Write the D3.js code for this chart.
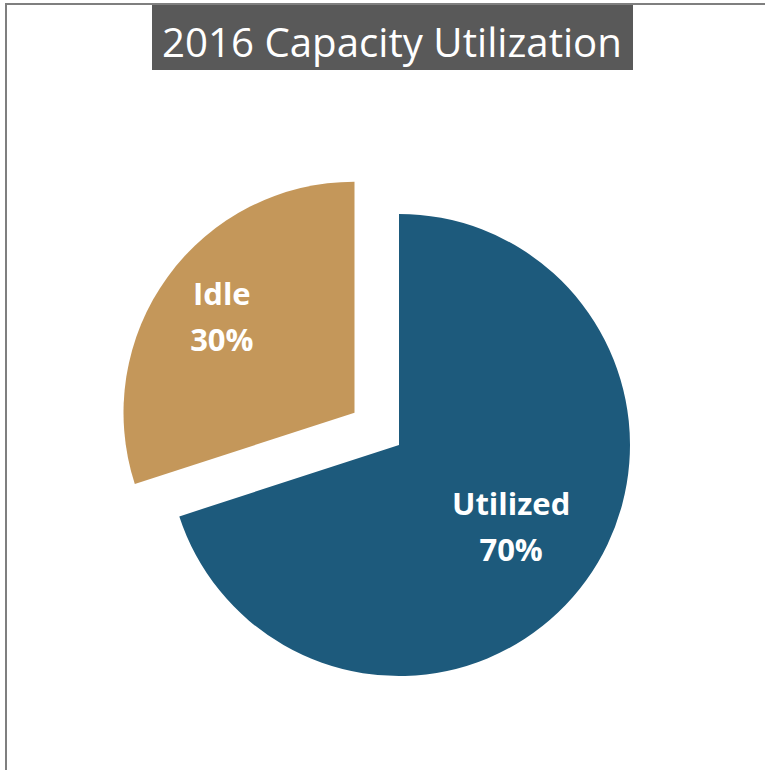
<!DOCTYPE html>
<html>
<head>
<meta charset="utf-8">
<script src="https://cdn.jsdelivr.net/npm/d3@7"></script>
<style>
  body { margin: 0; background: #fff; }
  svg { display: block; }
</style>
</head>
<body>
<div id="chart"></div>
<script>
// data
const categories = ["Utilized", "Idle"];
const shares = [70, 30];
const colors = ["#1d5a7c", "#c4975a"];
const title = "2016 Capacity Utilization";

const width = 765, height = 770;
const cx = 399, cy = 445, radius = 231;
const explode = 55; // idle slice pulled out

const svg = d3.select("#chart").append("svg")
  .attr("width", width).attr("height", height);

// frame (only left/top edges fall in view)
svg.append("path")
  .attr("d", `M6,${height} L6,4 L${width},4`)
  .attr("fill", "none")
  .attr("stroke", "#7f7f7f")
  .attr("stroke-width", 2);

// title box
const titleG = svg.append("g");
const titleRect = titleG.append("rect").attr("fill", "#595959");
const titleText = titleG.append("text")
  .attr("x", 392).attr("y", 57)
  .attr("text-anchor", "middle")
  .attr("fill", "#fff")
  .style("font-family", "'Open Sans', 'Noto Sans', sans-serif")
  .style("font-size", "40px")
  .text(title);
// fit to the width seen in the picture
let tw = titleText.node().getComputedTextLength();
titleText.style("font-size", (40 * 460 / tw) + "px");
titleRect.attr("x", 152).attr("y", 5).attr("width", 481).attr("height", 65);

const data = categories.map((c, i) => ({ name: c, value: shares[i], color: colors[i] }));

const pie = d3.pie().value(d => d.value).sort(null);
const arc = d3.arc().innerRadius(0).outerRadius(radius);
const arcs = pie(data);

const labelRadius = { Utilized: 0.6, Idle: 0.71 };

const g = svg.append("g").attr("transform", `translate(${cx},${cy})`);

const slices = g.selectAll("g.slice")
  .data(arcs)
  .join("g")
  .attr("class", "slice")
  .attr("transform", d => {
    if (d.data.name !== "Idle") return null;
    const mid = (d.startAngle + d.endAngle) / 2;
    return `translate(${Math.sin(mid) * explode},${-Math.cos(mid) * explode})`;
  });

slices.append("path")
  .attr("d", arc)
  .attr("fill", d => d.data.color);

slices.each(function (d) {
  const mid = (d.startAngle + d.endAngle) / 2;
  const r = radius * labelRadius[d.data.name];
  const x = Math.sin(mid) * r, y = -Math.cos(mid) * r;
  const t = d3.select(this).append("text")
    .attr("text-anchor", "middle")
    .attr("fill", "#fff")
    .style("font-family", "'Open Sans', 'Noto Sans', sans-serif")
    .style("font-weight", "bold")
    .style("font-size", "31px");
  t.append("tspan").attr("x", x).attr("y", y - 11).text(d.data.name);
  t.append("tspan").attr("x", x).attr("y", y + 35).text(d.data.value + "%");
});
</script>
</body>
</html>
